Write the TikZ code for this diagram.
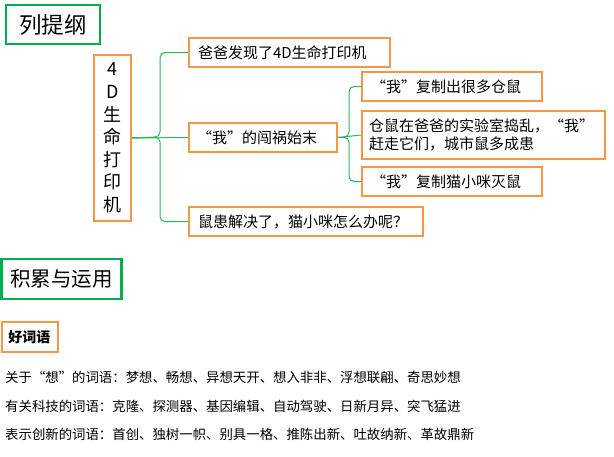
\documentclass[tikz,border=0pt]{standalone}
\usepackage{fontspec}
\setmainfont{Noto Sans CJK SC}
\definecolor{tgreen}{RGB}{0,176,80}
\definecolor{torange}{RGB}{247,150,70}
\definecolor{lgreen}{RGB}{40,185,90}
\begin{document}
\begin{tikzpicture}[x=1pt,y=-1pt,
  titlebox/.style={draw=tgreen,line width=2.5pt,inner sep=0pt,font=\fontsize{22.5}{26}\selectfont},
  obox/.style={draw=torange,line width=2.5pt,inner sep=0pt,minimum height=29pt,font=\fontsize{15}{19}\selectfont,align=left},
  link/.style={draw=lgreen,line width=1pt,rounded corners=5pt},
  body/.style={anchor=west,inner sep=0pt,font=\fontsize{13.4}{16}\selectfont}]
\useasboundingbox (0,0) rectangle (614,456);
\fill[white] (0,0) rectangle (614,456);
% titles
\node[titlebox,minimum width=94pt,minimum height=39pt] (t1) at (53,24.5) {列提纲};
\node[titlebox,minimum width=120pt,minimum height=40pt,font=\fontsize{20.5}{24}\selectfont] (t2) at (61.5,279) {积累与运用};
% main box
\node[draw=torange,line width=2.5pt,inner sep=0pt,minimum width=37pt,minimum height=166pt,align=center,font=\fontsize{18}{22.6}\selectfont] (m) at (112.5,138) {4\\D\\生\\命\\打\\印\\机};
% level 1
\node[obox,minimum width=201pt,text width=183pt] (b1) at (289.5,52.5) {爸爸发现了4D生命打印机};
\node[obox,minimum width=148pt,text width=132pt] (b2) at (263,137.5) {“我”的闯祸始末};
\node[obox,minimum width=234pt,text width=216pt] (b3) at (306,221.5) {鼠患解决了，猫小咪怎么办呢？};
% level 2
\node[obox,minimum width=180pt,text width=162pt] (s1) at (452,86.5) {“我”复制出很多仓鼠};
\node[obox,minimum width=243pt,minimum height=48pt,text width=229pt,font=\fontsize{15}{18}\selectfont] (s2) at (483.5,135) {仓鼠在爸爸的实验室捣乱，“我”\\赶走它们，城市鼠多成患};
\node[obox,minimum width=180pt,text width=162pt] (s3) at (452,181.5) {“我”复制猫小咪灭鼠};
% connectors
\coordinate (j1) at (160,137);
\draw[link] (m.east) -- (j1) |- (b1.west);
\draw[link] (m.east) -- (j1) |- (b3.west);
\draw[link] (m.east) -- (b2.west);
\coordinate (j2) at (349,137);
\draw[link] (b2.east) -- (j2) |- (s1.west);
\draw[link] (b2.east) -- (j2) |- (s3.west);
\draw[link] (b2.east) -- (s2.west);
% good words
\node[draw=torange,line width=2pt,inner sep=0pt,minimum width=56pt,minimum height=30pt,font=\fontsize{14}{17}\bfseries\selectfont] (g) at (29.5,337) {\textbf{好词语}};
\node[body] (l1) at (5,377) {关于“想”的词语：梦想、畅想、异想天开、想入非非、浮想联翩、奇思妙想};
\node[body] (l2) at (5,406) {有关科技的词语：克隆、探测器、基因编辑、自动驾驶、日新月异、突飞猛进};
\node[body] (l3) at (5,434) {表示创新的词语：首创、独树一帜、别具一格、推陈出新、吐故纳新、革故鼎新};
\end{tikzpicture}
\end{document}
